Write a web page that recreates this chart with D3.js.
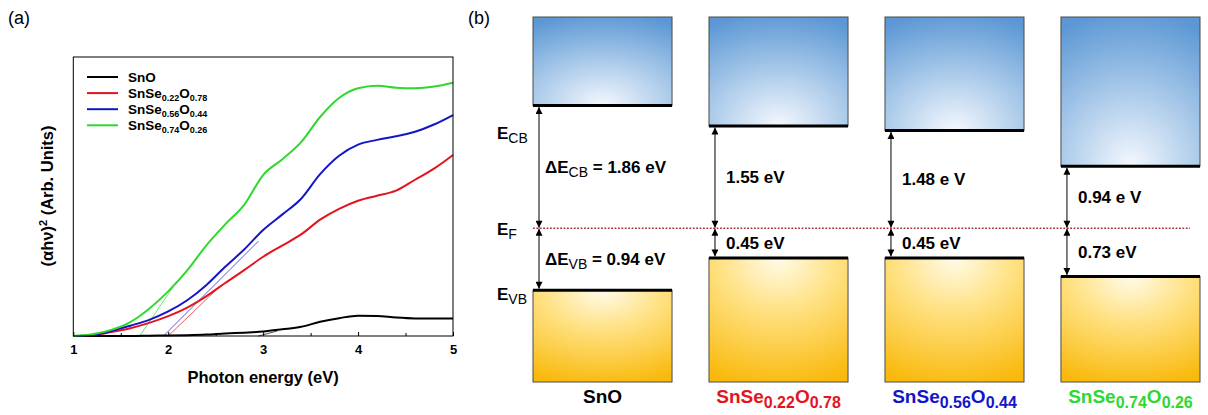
<!DOCTYPE html>
<html>
<head>
<meta charset="utf-8">
<script src="https://cdn.jsdelivr.net/npm/d3@7"></script>
<style>
  body { margin: 0; background: #fff; }
  svg { display: block; font-family: "Liberation Sans", Arial, sans-serif; }
</style>
</head>
<body>
<script>
// (a) Tauc plot data (arbitrary units 0-100)
var energy = [1.0, 1.2, 1.4, 1.6, 1.8, 2.0, 2.2, 2.4, 2.6, 2.8, 3.0, 3.2, 3.4, 3.6, 3.8, 4.0, 4.2, 4.4, 4.6, 4.8, 5.0];
var snoVals = [0, 0, 0, 0, 0.1, 0.2, 0.3, 0.5, 0.9, 1.2, 1.6, 2.4, 3.3, 5.1, 6.4, 7.3, 7.2, 6.6, 6.3, 6.3, 6.3];
var se22Vals = [0, 0.3, 1.4, 2.8, 4.7, 7.1, 10.2, 14.2, 19.0, 23.6, 28.4, 32.4, 36.4, 41.7, 45.6, 48.5, 50.3, 52.1, 56.0, 60.0, 64.9];
var se56Vals = [0, 0.4, 1.8, 3.7, 5.8, 8.8, 12.8, 18.2, 24.8, 31.0, 38.0, 43.5, 49.2, 58.0, 64.6, 68.6, 70.3, 71.6, 73.2, 75.8, 79.2];
var se74Vals = [0, 0.6, 2.2, 5.0, 9.8, 16.0, 23.5, 32.4, 40.0, 47.0, 57.7, 63.3, 69.5, 78.5, 85.3, 88.8, 89.7, 89.0, 88.8, 89.4, 90.8];

// thin linear fits used to read the gaps
var snoFit = [[2.95, 0], [3.15, 1.8]];
var se22Fit = [[2.0, 0], [2.55, 18]];
var se56Fit = [[1.95, 0], [2.95, 34]];
var se74Fit = [[1.70, 0], [2.10, 20]];

var samples = ["SnO", "SnSe0.22O0.78", "SnSe0.56O0.44", "SnSe0.74O0.26"];
var sampleColors = ["#000000", "#e3141e", "#1515c8", "#2fd82f"];
var xTicks = [1, 2, 3, 4, 5];
var xMinorTicks = [1.5, 2.5, 3.5, 4.5];

// (b) band offsets from the Fermi level (eV)
var cbOffset = [1.86, 1.55, 1.48, 0.94];
var vbOffset = [0.94, 0.45, 0.45, 0.73];
var cbLabels = ["\u0394E_{CB} = 1.86 eV", "1.55 eV", "1.48 e V", "0.94 e V"];
var vbLabels = ["\u0394E_{VB} = 0.94 eV", "0.45 eV", "0.45 eV", "0.73 eV"];
var levelLabels = ["E_{CB}", "E_{F}", "E_{VB}"];
var bandTop = 3.2;
var bandBottom = -2.33;

var narrow = "'Liberation Sans Narrow', 'Liberation Sans', Arial, sans-serif";

var svg = d3.select("body")
  .append("svg")
  .attr("width", 1208)
  .attr("height", 415);

// writes "a_{b}" / "a^{b}" strings as tspans
function richText(sel, str, opt) {
  var parts = str.split(/(_\{[^}]*\}|\^\{[^}]*\})/).filter(s => s.length);
  var shift = 0;
  parts.forEach(function(p) {
    var t = sel.append("tspan");
    var want = 0;
    if (p[0] === "_" || p[0] === "^") {
      want = p[0] === "_" ? opt.subDy : -opt.supDy;
      t.style("font-size", opt.subSize + "px")
        .style("font-weight", opt.subWeight || null)
        .style("font-family", opt.subFamily || null);
      p = p.slice(2, -1);
    }
    t.attr("dy", want - shift).text(p);
    shift = want;
  });
}

function formula(name) {
  return name.replace(/(\d+\.\d+)/g, "_{$1}");
}

// ---------------- panel (a) ----------------
svg.append("text")
  .attr("x", 8)
  .attr("y", 24)
  .style("font-size", "18px")
  .text("(a)");

var x = d3.scaleLinear().domain([1, 5]).range([73.3, 453]);
var y = d3.scaleLinear().domain([0, 100]).range([336, 57]);

var chartA = svg.append("g");

var series = [snoVals, se22Vals, se56Vals, se74Vals].map(function(vals, i) {
  return { name: samples[i], color: sampleColors[i], values: energy.map((e, j) => [e, vals[j]]) };
});
var fits = [snoFit, se22Fit, se56Fit, se74Fit];

var line = d3.line()
  .x(d => x(d[0]))
  .y(d => y(d[1]))
  .curve(d3.curveMonotoneX);

chartA.selectAll("path.fit")
  .data(fits)
  .enter()
  .append("path")
  .attr("class", "fit")
  .attr("d", d3.line().x(d => x(d[0])).y(d => y(d[1])))
  .attr("fill", "none")
  .attr("stroke", (d, i) => sampleColors[i])
  .attr("stroke-width", 0.7);

chartA.selectAll("path.curve")
  .data(series)
  .enter()
  .append("path")
  .attr("class", "curve")
  .attr("d", d => line(d.values))
  .attr("fill", "none")
  .attr("stroke", d => d.color)
  .attr("stroke-width", 2);

// frame
chartA.append("rect")
  .attr("x", x.range()[0])
  .attr("y", y.range()[1])
  .attr("width", x.range()[1] - x.range()[0])
  .attr("height", y.range()[0] - y.range()[1])
  .attr("fill", "none")
  .attr("stroke", "#000")
  .attr("stroke-width", 1);

var xAxis = chartA.append("g")
  .attr("transform", `translate(0, ${y.range()[0]})`)
  .call(d3.axisBottom(x).tickValues(xTicks).tickFormat(d3.format("d")).tickSizeInner(-4).tickSizeOuter(0).tickPadding(9));
xAxis.select(".domain").remove();
xAxis.selectAll("text")
  .style("font-size", "13px")
  .style("font-weight", "bold")
  .style("font-family", "'Liberation Sans', Arial, sans-serif")
  .attr("fill", "#000");

var xMinor = chartA.append("g")
  .attr("transform", `translate(0, ${y.range()[0]})`)
  .call(d3.axisBottom(x).tickValues(xMinorTicks).tickFormat("").tickSizeInner(-3).tickSizeOuter(0));
xMinor.select(".domain").remove();

chartA.append("text")
  .attr("x", (x.range()[0] + x.range()[1]) / 2)
  .attr("y", 383)
  .attr("text-anchor", "middle")
  .style("font-size", "16.5px")
  .style("font-weight", "bold")
  .text("Photon energy (eV)");

var yTitle = chartA.append("text")
  .attr("transform", "translate(53, 196) rotate(-90)")
  .attr("text-anchor", "middle")
  .style("font-size", "16.5px")
  .style("font-weight", "bold");
richText(yTitle, "(\u03b1h\u03bd)^{2} (Arb. Units)", { subSize: 11, subDy: 0, supDy: 6 });

// legend
var legend = chartA.append("g")
  .attr("transform", "translate(87, 77)");
var legendRows = legend.selectAll("g")
  .data(series)
  .enter()
  .append("g")
  .attr("transform", (d, i) => `translate(0, ${i * 16.1})`);
legendRows.append("line")
  .attr("x1", 0)
  .attr("x2", 31)
  .attr("stroke", d => d.color)
  .attr("stroke-width", 2);
legendRows.append("text")
  .attr("x", 41)
  .attr("y", 4.5)
  .style("font-size", "13.5px")
  .style("font-weight", "bold")
  .each(function(d) {
    richText(d3.select(this), formula(d.name), { subSize: 9, subDy: 3, supDy: 0 });
  });

// ---------------- panel (b) ----------------
svg.append("text")
  .attr("x", 468)
  .attr("y", 24)
  .style("font-size", "18px")
  .text("(b)");

var bx = d3.scaleBand().domain(samples).range([533, 1200]).paddingInner(0.21).paddingOuter(0);
var ey = d3.scaleLinear().domain([bandBottom, bandTop]).range([382, 17]);

var defs = svg.append("defs");
var cbGrad = defs.append("radialGradient")
  .attr("id", "cbGrad")
  .attr("cx", 0.5).attr("cy", 1).attr("r", 1.05)
  .attr("fx", 0.5).attr("fy", 1);
cbGrad.append("stop").attr("offset", "0%").attr("stop-color", "#f4f8fd");
cbGrad.append("stop").attr("offset", "45%").attr("stop-color", "#afcdeb");
cbGrad.append("stop").attr("offset", "100%").attr("stop-color", "#5b97d4");

var vbGrad = defs.append("radialGradient")
  .attr("id", "vbGrad")
  .attr("cx", 0.5).attr("cy", 0).attr("r", 1.05)
  .attr("fx", 0.5).attr("fy", 0);
vbGrad.append("stop").attr("offset", "0%").attr("stop-color", "#fffbea");
vbGrad.append("stop").attr("offset", "40%").attr("stop-color", "#ffe285");
vbGrad.append("stop").attr("offset", "100%").attr("stop-color", "#f9b90c");

defs.append("marker")
  .attr("id", "head")
  .attr("viewBox", "0 0 8 8")
  .attr("refX", 8)
  .attr("refY", 4)
  .attr("markerWidth", 8)
  .attr("markerHeight", 7)
  .attr("markerUnits", "userSpaceOnUse")
  .attr("orient", "auto-start-reverse")
  .append("path")
  .attr("d", "M0,0 L8,4 L0,8 Z")
  .attr("fill", "#000");

var bands = samples.map(function(s, i) {
  return { name: s, color: sampleColors[i], cb: cbOffset[i], vb: -vbOffset[i], cbLabel: cbLabels[i], vbLabel: vbLabels[i], i: i };
});

var chartB = svg.append("g");

var cols = chartB.selectAll("g.col")
  .data(bands)
  .enter()
  .append("g")
  .attr("class", "col");

// conduction band boxes
cols.append("rect")
  .attr("x", d => bx(d.name))
  .attr("y", ey(bandTop))
  .attr("width", bx.bandwidth())
  .attr("height", d => ey(d.cb) - ey(bandTop))
  .attr("fill", "url(#cbGrad)")
  .attr("stroke", "#4a4a4a")
  .attr("stroke-width", 1);

// valence band boxes
cols.append("rect")
  .attr("x", d => bx(d.name))
  .attr("y", d => ey(d.vb))
  .attr("width", bx.bandwidth())
  .attr("height", d => ey(bandBottom) - ey(d.vb))
  .attr("fill", "url(#vbGrad)")
  .attr("stroke", "#4a4a4a")
  .attr("stroke-width", 1);

// band edges
cols.append("line")
  .attr("x1", d => bx(d.name))
  .attr("x2", d => bx(d.name) + bx.bandwidth())
  .attr("y1", d => ey(d.cb))
  .attr("y2", d => ey(d.cb))
  .attr("stroke", "#000")
  .attr("stroke-width", 3);
cols.append("line")
  .attr("x1", d => bx(d.name))
  .attr("x2", d => bx(d.name) + bx.bandwidth())
  .attr("y1", d => ey(d.vb))
  .attr("y2", d => ey(d.vb))
  .attr("stroke", "#000")
  .attr("stroke-width", 3);

// Fermi level
chartB.append("line")
  .attr("x1", bx.range()[0])
  .attr("x2", bx.range()[1] - 10)
  .attr("y1", ey(0))
  .attr("y2", ey(0))
  .attr("stroke", "#a8303a")
  .attr("stroke-width", 1.5)
  .attr("stroke-dasharray", "1.8,1.6");

// double arrows
cols.append("line")
  .attr("x1", d => bx(d.name) + 6)
  .attr("x2", d => bx(d.name) + 6)
  .attr("y1", d => ey(d.cb) + 1.5)
  .attr("y2", ey(0) - 0.5)
  .attr("stroke", "#000")
  .attr("stroke-width", 1)
  .attr("marker-start", "url(#head)")
  .attr("marker-end", "url(#head)");
cols.append("line")
  .attr("x1", d => bx(d.name) + 6)
  .attr("x2", d => bx(d.name) + 6)
  .attr("y1", ey(0) + 0.5)
  .attr("y2", d => ey(d.vb) - 1.5)
  .attr("stroke", "#000")
  .attr("stroke-width", 1)
  .attr("marker-start", "url(#head)")
  .attr("marker-end", "url(#head)");

// gap values
var gapStyle = { subSize: 14, subDy: 4, supDy: 0, subWeight: "normal", subFamily: narrow };
cols.append("text")
  .attr("x", d => bx(d.name) + (d.i === 0 ? 12 : 17))
  .attr("y", d => (ey(d.cb) + ey(0)) / 2 + 6)
  .style("font-size", "17px")
  .style("font-weight", "bold")
  .each(function(d) { richText(d3.select(this), d.cbLabel, gapStyle); });
cols.append("text")
  .attr("x", d => bx(d.name) + (d.i === 0 ? 12 : 17))
  .attr("y", d => (ey(d.vb) + ey(0)) / 2 + 6)
  .style("font-size", "17px")
  .style("font-weight", "bold")
  .each(function(d) { richText(d3.select(this), d.vbLabel, gapStyle); });

// sample names
cols.append("text")
  .attr("x", d => bx(d.name) + bx.bandwidth() / 2)
  .attr("y", 403)
  .attr("text-anchor", "middle")
  .attr("fill", d => d.color)
  .style("font-size", "19px")
  .style("font-weight", "bold")
  .each(function(d) {
    richText(d3.select(this), formula(d.name), { subSize: 16, subDy: 5, supDy: 0, subFamily: narrow });
  });

// level names on the left
var levelY = [ey(cbOffset[0]) + 34, ey(0) + 7, ey(-vbOffset[0]) + 10];
chartB.selectAll("text.level")
  .data(levelLabels)
  .enter()
  .append("text")
  .attr("class", "level")
  .attr("x", 497)
  .attr("y", (d, i) => levelY[i])
  .style("font-size", "17px")
  .style("font-weight", "bold")
  .each(function(d) {
    richText(d3.select(this), d, { subSize: 14, subDy: 4, supDy: 0, subWeight: "normal", subFamily: narrow });
  });
</script>
</body>
</html>
